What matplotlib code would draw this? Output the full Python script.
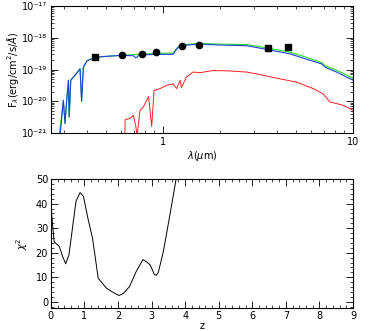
import numpy as np
import matplotlib
matplotlib.use('Agg')
import matplotlib.pyplot as plt
from matplotlib.ticker import LogLocator, NullFormatter, MultipleLocator

# SED model curves (wavelength in micron, flux in erg/cm2/s/A)
blue_wl = [0.287, 0.299, 0.305, 0.311, 0.318, 0.321, 0.327, 0.344, 0.366, 0.373,
           0.381, 0.399, 0.438, 0.505, 0.61, 0.70, 0.72, 0.74, 0.78, 0.92, 1.13,
           1.18, 1.23, 1.27, 1.30, 1.39, 1.57, 1.99, 2.76, 3.58, 4.66, 5.7, 6.84,
           7.1, 8.2, 10.0]
blue_fl = [8e-22, 1.07e-20, 2e-21, 1e-20, 4.6e-20, 3.2e-21, 4.6e-20, 6.5e-20, 1.05e-19, 1e-20,
           1.2e-19, 1.9e-19, 2.4e-19, 2.6e-19, 2.8e-19, 2.7e-19, 2.3e-19, 2.7e-19, 2.9e-19, 3.0e-19, 3.0e-19,
           4.4e-19, 5.6e-19, 4.5e-19, 5.8e-19, 6.0e-19, 6.3e-19, 5.9e-19, 5.6e-19, 4.2e-19, 3.1e-19, 2.1e-19, 1.5e-19,
           1.2e-19, 8.3e-20, 4.6e-20]

green_wl = [0.284, 0.299, 0.305, 0.311, 0.318, 0.321, 0.327, 0.344, 0.366, 0.373,
            0.381, 0.399, 0.438, 0.505, 0.61, 0.78, 0.92, 1.13, 1.18, 1.23, 1.39,
            1.57, 1.99, 2.76, 3.58, 4.66, 5.7, 6.84, 7.1, 8.2, 10.0]
green_fl = [8e-22, 1.07e-20, 2e-21, 1e-20, 4.6e-20, 3.2e-21, 4.6e-20, 6.5e-20, 1.05e-19, 1e-20,
            1.2e-19, 1.9e-19, 2.4e-19, 2.6e-19, 2.8e-19, 3.05e-19, 3.2e-19, 3.3e-19, 4.6e-19, 5.8e-19, 6.3e-19,
            6.6e-19, 6.3e-19, 6.1e-19, 4.7e-19, 3.5e-19, 2.4e-19, 1.65e-19, 1.35e-19, 9.5e-20, 5.3e-20]

red_wl = [0.630, 0.632, 0.67, 0.698, 0.72, 0.73, 0.757, 0.788, 0.82, 0.84, 0.872,
          0.897, 0.964, 1.05, 1.13, 1.18, 1.23, 1.25, 1.33, 1.44, 1.57, 1.84, 2.25,
          2.76, 3.24, 4.12, 5.05, 6.18, 6.97, 7.56, 8.88, 10.0]
red_fl = [8e-22, 2.6e-21, 2.9e-21, 3.6e-21, 1.6e-21, 8e-22, 5.2e-21, 6.6e-21, 1.07e-20, 1.4e-20, 1.6e-21,
          2.2e-20, 2.5e-20, 3.2e-20, 3.5e-20, 2.5e-20, 4.6e-20, 2.7e-20, 5.8e-20, 8.3e-20, 8e-20, 9.3e-20, 9e-20,
          8.3e-20, 6.9e-20, 5.1e-20, 4e-20, 2.5e-20, 1.7e-20, 9.5e-21, 7.5e-21, 5.2e-21]

# photometry
circ_wl = [0.61, 0.78, 0.92, 1.26, 1.55]
circ_fl = [2.9e-19, 3.1e-19, 3.5e-19, 5.6e-19, 6.1e-19]
sq_wl = [0.44, 3.58, 4.53]
sq_fl = [2.5e-19, 4.8e-19, 5.1e-19]
sq_err = [0.3e-19, 0.6e-19, 0.6e-19]

# flux axis labels
flux_ticks = [1e-21, 1e-20, 1e-19, 1e-18, 1e-17]
flux_labels = ['10⁻²¹', '10⁻²⁰', '10⁻¹⁹', '10⁻¹⁸', '10⁻¹⁷']

# chi2 vs redshift
z = [0.0, 0.05, 0.1, 0.25, 0.35, 0.44, 0.54, 0.67, 0.75, 0.87, 0.97, 1.11, 1.24,
     1.41, 1.66, 1.91, 2.03, 2.16, 2.34, 2.54, 2.74, 2.86, 2.96, 3.08, 3.14, 3.2,
     3.35, 3.53, 3.73, 3.8]
chi2 = [39.7, 31.5, 24.4, 22.6, 18.5, 15.5, 19.2, 32.9, 41.0, 44.5, 43.0, 33.6, 26.0,
        9.6, 5.5, 3.4, 2.6, 3.4, 6.2, 12.3, 17.2, 16.2, 15.0, 11.2, 10.8, 12.0,
        20.5, 34.2, 50.0, 53.0]

plt.rcParams['font.size'] = 7
plt.rcParams['xtick.direction'] = 'in'
plt.rcParams['ytick.direction'] = 'in'
plt.rcParams['xtick.top'] = True
plt.rcParams['ytick.right'] = True
plt.rcParams['axes.linewidth'] = 0.8

fig = plt.figure(figsize=(3.74, 3.31), dpi=100)

# top panel: SED
ax1 = fig.add_axes([0.136, 0.598, 0.808, 0.384])
ax1.plot(green_wl, green_fl, color='#22dd22', lw=0.8)
ax1.plot(blue_wl, blue_fl, color='#1f3fe0', lw=0.8)
ax1.plot(red_wl, red_fl, color='#ff2020', lw=0.7)
ax1.plot(circ_wl, circ_fl, 'o', color='k', ms=4.5)
ax1.errorbar(sq_wl, sq_fl, yerr=sq_err, fmt='s', color='k', ms=4,
             elinewidth=0.8, capsize=0)
ax1.set_xscale('log')
ax1.set_yscale('log')
ax1.set_xlim(0.257, 10)
ax1.set_ylim(1e-21, 1e-17)
ax1.xaxis.set_minor_formatter(NullFormatter())
ax1.set_xticks([1, 10])
ax1.set_xticklabels(['1', '10'])
ax1.set_yticks(flux_ticks)
ax1.set_yticklabels(flux_labels)
ax1.yaxis.set_minor_locator(LogLocator(base=10, subs=np.arange(2, 10)))
ax1.yaxis.set_minor_formatter(NullFormatter())
ax1.set_ylim(1e-21, 1e-17)
ax1.tick_params(which='major', length=5, width=0.6, pad=2.5)
ax1.tick_params(axis='y', labelsize=7)
ax1.tick_params(which='minor', length=2.5, width=0.5)
ax1.set_xlabel(r'$\lambda(\mu$m)', fontsize=7, labelpad=2)
ax1.set_ylabel(r'F$_\lambda$(erg/cm$^2$/s/$\AA$)', fontsize=7, labelpad=1)

# bottom panel: chi2
ax2 = fig.add_axes([0.136, 0.0695, 0.808, 0.3895])
ax2.plot(z, chi2, color='k', lw=0.7)
ax2.set_xlim(0, 9)
ax2.set_ylim(-2.5, 50)
ax2.xaxis.set_major_locator(MultipleLocator(1))
ax2.xaxis.set_minor_locator(MultipleLocator(0.2))
ax2.yaxis.set_major_locator(MultipleLocator(10))
ax2.yaxis.set_minor_locator(MultipleLocator(2))
ax2.tick_params(which='major', length=5, width=0.6, pad=2)
ax2.tick_params(which='minor', length=2.5, width=0.5)
ax2.set_xlabel('z', fontsize=7, labelpad=0)
ax2.set_ylabel(r'$\chi^2$', fontsize=7)

fig.savefig('out.png', dpi=100)
